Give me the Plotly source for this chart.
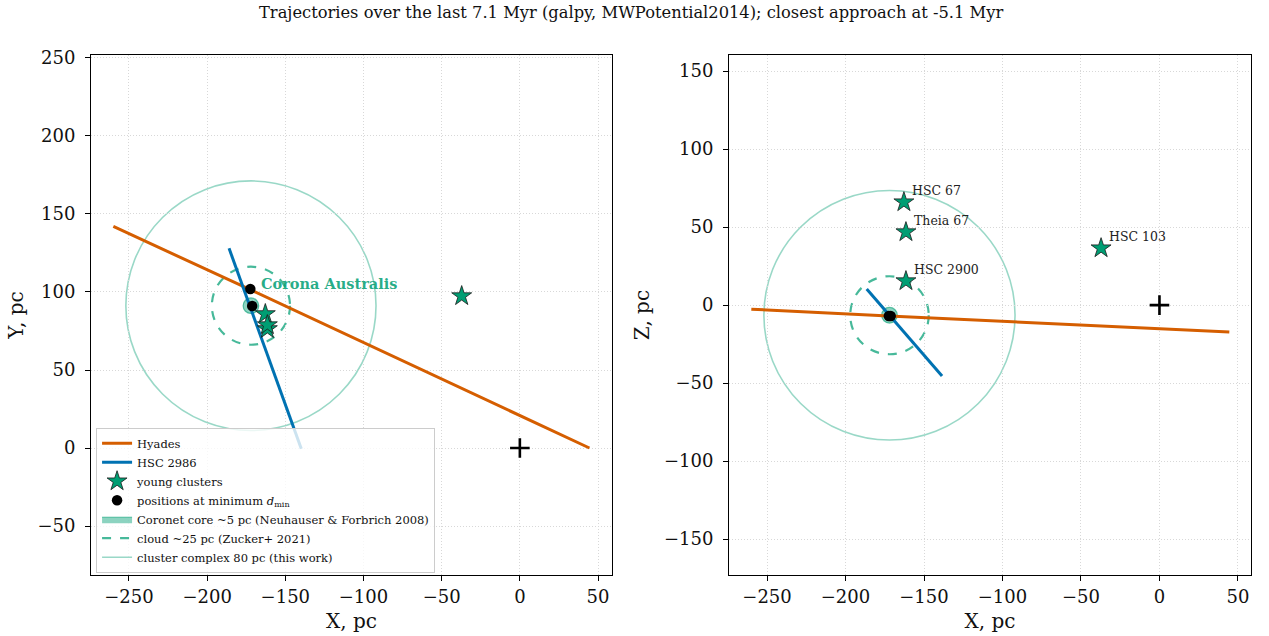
import plotly.graph_objects as go

# ---------------- data ----------------
hyades_x = [-260.0, -172.4, 44.5]
hyades_y = [142.0, 101.5, 0.0]
hyades_z = [-2.6, -7.0, -17.3]

hsc2986_x = [-186.0, -172.8, -139.8]
hsc2986_y = [128.0, 91.0, -0.5]
hsc2986_z_x = [-186.5, -172.0, -138.5]
hsc2986_z = [10.3, -6.6, -45.5]

dmin_x = [-172.4, -171.2]
dmin_y = [101.9, 91.0]
dmin_z = [-7.0, -7.0]

cluster_names = ["HSC 67", "Theia 67", "HSC 2900", "HSC 103"]
cluster_x = [-162.8, -161.5, -161.5, -37.2]
cluster_y = [85.9, 76.3, 78.8, 97.4]
cluster_z = [66.0, 46.8, 15.4, 36.5]

sun_x = [0.0]
sun_y = [0.0]
sun_z = [0.0]

cra_x, cra_y, cra_z = -172.0, 91.2, -6.5
radius_core, radius_cloud, radius_complex = 5.0, 25.0, 80.0

title_text = ("Trajectories over the last 7.1 Myr (galpy, MWPotential2014); "
              "closest approach at -5.1 Myr")

# ---------------- style ----------------
FONT = "DejaVu Serif"
C_HYA = "#d55e00"
C_HSC = "#0072b2"
C_GRN = "#009e73"
C_CORE_FILL = "rgba(0,158,115,0.45)"
C_CORE_EDGE = "rgba(0,158,115,0.6)"
C_CLOUD = "rgba(0,158,115,0.72)"
C_COMPLEX = "rgba(0,158,115,0.40)"

fig = go.Figure()

def add_panel(xa, ya, xs_h, ys_h, xs_b, ys_b, ys_d, ys_c, sun_v, cy, show):
    fig.add_trace(go.Scatter(x=xs_h, y=ys_h, mode="lines", name="Hyades",
                             line=dict(color=C_HYA, width=3), xaxis=xa, yaxis=ya,
                             showlegend=show))
    fig.add_trace(go.Scatter(x=xs_b, y=ys_b, mode="lines", name="HSC 2986",
                             line=dict(color=C_HSC, width=3), xaxis=xa, yaxis=ya,
                             showlegend=show))
    fig.add_trace(go.Scatter(x=cluster_x, y=ys_c, mode="markers", name="young clusters",
                             marker=dict(symbol="star", size=15, color=C_GRN,
                                         line=dict(color="#1a1a1a", width=0.8)),
                             xaxis=xa, yaxis=ya, showlegend=show))
    fig.add_trace(go.Scatter(x=dmin_x, y=ys_d, mode="markers",
                             name="positions at minimum <i>d</i><sub>min</sub>",
                             marker=dict(symbol="circle", size=10.5, color="black"),
                             xaxis=xa, yaxis=ya, showlegend=show))
    fig.add_trace(go.Scatter(x=sun_x, y=sun_v, mode="markers",
                             marker=dict(symbol="cross-thin", size=14,
                                         line=dict(color="black", width=2.6)),
                             xaxis=xa, yaxis=ya, showlegend=False, hoverinfo="skip"))
    for r, kw in [(radius_complex, dict(line=dict(color=C_COMPLEX, width=1.6))),
                  (radius_cloud, dict(line=dict(color=C_CLOUD, width=2.2, dash="dash"))),
                  (radius_core, dict(line=dict(color=C_CORE_EDGE, width=1.2),
                                     fillcolor=C_CORE_FILL))]:
        fig.add_shape(type="circle", xref=xa, yref=ya,
                      x0=cra_x - r, x1=cra_x + r, y0=cy - r, y1=cy + r,
                      layer="below", **kw)

add_panel("x", "y", hyades_x, hyades_y, hsc2986_x, hsc2986_y, dmin_y, cluster_y,
          sun_y, cra_y, True)
add_panel("x2", "y2", hyades_x, hyades_z, hsc2986_z_x, hsc2986_z, dmin_z, cluster_z,
          sun_z, cra_z, False)

# legend-only entries for the circles
fig.add_trace(go.Scatter(x=[None], y=[None], mode="lines", fill="toself",
                         fillcolor=C_CORE_FILL, line=dict(color=C_CORE_EDGE, width=1),
                         name="Coronet core ~5 pc (Neuhauser &amp; Forbrich 2008)"))
fig.add_trace(go.Scatter(x=[None], y=[None], mode="lines",
                         line=dict(color=C_CLOUD, width=2.2, dash="dash"),
                         name="cloud ~25 pc (Zucker+ 2021)"))
fig.add_trace(go.Scatter(x=[None], y=[None], mode="lines",
                         line=dict(color=C_COMPLEX, width=1.6),
                         name="cluster complex 80 pc (this work)"))

# annotations
fig.add_annotation(x=-166.8, y=105.5, xref="x", yref="y", text="<b>Corona Australis</b>",
                   showarrow=False, xanchor="left", yanchor="middle",
                   font=dict(family=FONT, size=14.5, color="rgba(0,158,115,0.85)"))
for n, cx, cz in zip(cluster_names, cluster_x, cluster_z):
    fig.add_annotation(x=cx, y=cz, xref="x2", yref="y2", text=n, showarrow=False,
                       xanchor="left", yanchor="middle", xshift=6, yshift=12,
                       font=dict(family=FONT, size=12.5, color="#222222"))

fig.add_annotation(x=0.497, y=0.98, xref="paper", yref="paper", text=title_text,
                   showarrow=False, xanchor="center", yanchor="middle",
                   font=dict(family=FONT, size=16.3, color="#111111"))

axis_common = dict(showline=True, mirror=True, linecolor="black", linewidth=1,
                   ticks="outside", ticklen=5, tickcolor="black", automargin=False,
                   showgrid=True, gridcolor="#d8d8d8", griddash="1px,2px", gridwidth=0.8,
                   zeroline=False, tickfont=dict(family=FONT, size=18, color="#111"),
                   title_font=dict(family=FONT, size=20, color="#111"))

fig.update_layout(
    width=1269, height=636, margin=dict(l=0, r=0, t=0, b=0, autoexpand=False),
    paper_bgcolor="white", plot_bgcolor="white",
    showlegend=True,
    legend=dict(x=0.0757, y=0.0995, xanchor="left", yanchor="bottom",
                bgcolor="rgba(255,255,255,0.8)", bordercolor="#cccccc", borderwidth=1,
                font=dict(family=FONT, size=11.5, color="#111"), tracegroupgap=0,
                itemwidth=30),
    xaxis=dict(domain=[0.0717, 0.4823], range=[-274.3, 58.96], dtick=50, tick0=0,
               title=dict(text="X, pc", standoff=8), anchor="y", **axis_common),
    yaxis=dict(domain=[0.0959, 0.9135], range=[-81.4, 251.9], dtick=50, tick0=0,
               ticklabelstandoff=6,
               title=dict(text="Y, pc", standoff=8), anchor="x", **axis_common),
    xaxis2=dict(domain=[0.5745, 0.9858], range=[-274.2, 58.3], dtick=50, tick0=0,
                title=dict(text="X, pc", standoff=8), anchor="y2", **axis_common),
    yaxis2=dict(domain=[0.0959, 0.9135], range=[-173.0, 160.3], dtick=50, tick0=0,
                ticklabelstandoff=6,
                title=dict(text="Z, pc", standoff=8), anchor="x2", **axis_common),
)

fig.write_html("out.html", config={"displayModeBar": False},
               post_script="document.body.style.margin='0';document.body.style.overflow='hidden';")
